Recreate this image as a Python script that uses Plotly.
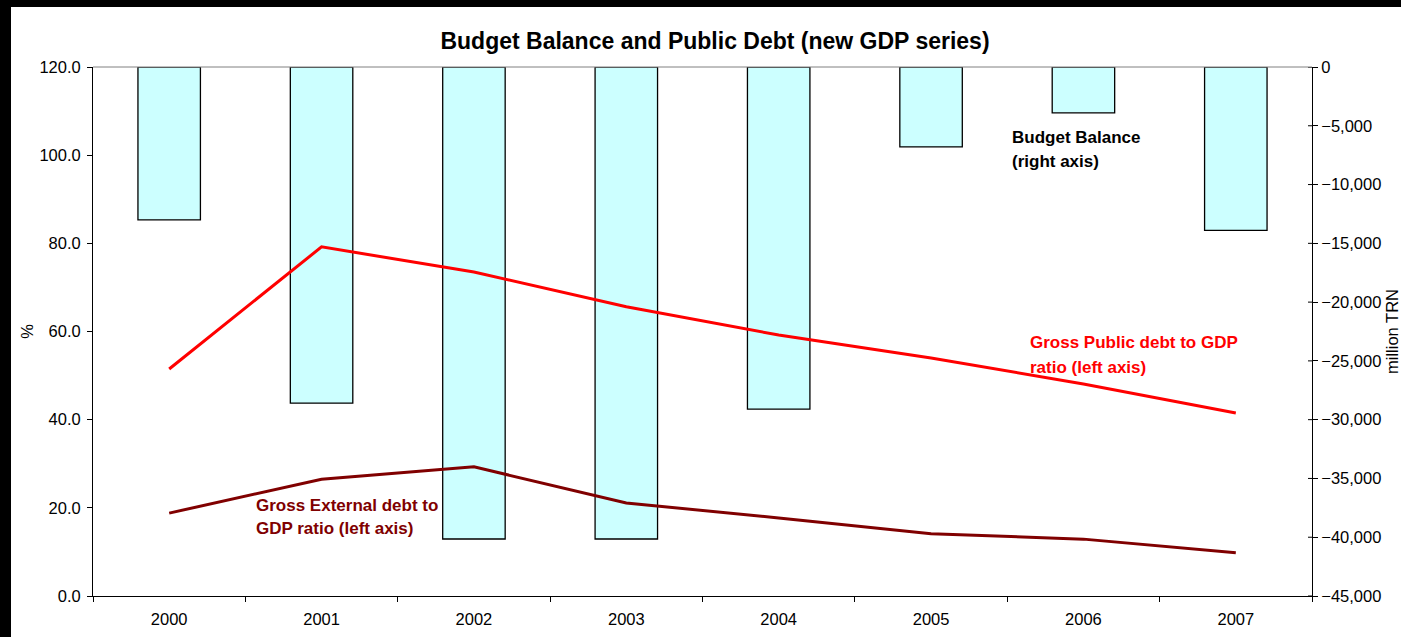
import plotly.graph_objects as go

years = ["2000", "2001", "2002", "2003", "2004", "2005", "2006", "2007"]
budget_balance = [-13000, -28600, -40150, -40150, -29100, -6800, -3900, -13900]
public_debt = [51.5, 79.2, 73.5, 65.6, 59.2, 54.0, 48.1, 41.5]
external_debt = [18.8, 26.5, 29.3, 21.1, 17.7, 14.1, 12.9, 9.8]
right_ticks = list(range(-45000, 1, 5000))

W, H = 1401, 637
L, R, T, B = 93, 89, 67, 41
pw, ph = W - L - R, H - T - B

def px(x):
    return (x - L) / pw

def py(y):
    return (H - B - y) / ph

FONT = "Liberation Sans, Arial, sans-serif"
TICK = 16.5

fig = go.Figure()
fig.add_trace(go.Bar(
    x=years, y=budget_balance, yaxis="y", width=0.41,
    marker=dict(color="#CCFFFF", line=dict(color="black", width=1.3)),
    name="Budget Balance (right axis)", showlegend=False,
))
fig.add_trace(go.Scatter(
    x=years, y=public_debt, mode="lines", yaxis="y2",
    line=dict(color="#FF0000", width=3),
    name="Gross Public debt to GDP ratio (left axis)", showlegend=False,
))
fig.add_trace(go.Scatter(
    x=years, y=external_debt, mode="lines", yaxis="y2",
    line=dict(color="#800000", width=3),
    name="Gross External debt to GDP ratio (left axis)", showlegend=False,
))

annots = [
    ("Budget Balance", 1010, 137, "black"),
    ("(right axis)", 1010, 161, "black"),
    ("Gross Public debt to GDP", 1028, 342, "#FF0000"),
    ("ratio (left axis)", 1028, 367, "#FF0000"),
    ("Gross External debt to", 254, 505, "#800000"),
    ("GDP ratio (left axis)", 254, 528, "#800000"),
]
annotations = []
for text, x, y, c in annots:
    annotations.append(dict(
        text="<b>%s</b>" % text, xref="paper", yref="paper",
        x=px(x), y=py(y), xanchor="left", yanchor="middle",
        showarrow=False, font=dict(family=FONT, size=17, color=c),
    ))

shapes = [
    dict(type="line", xref="paper", yref="paper", x0=0, x1=1, y0=1, y1=1,
         line=dict(color="#808080", width=1)),
    dict(type="rect", xref="paper", yref="paper", x0=px(0), x1=px(W),
         y0=py(7), y1=py(0), fillcolor="black", line=dict(width=0), layer="above"),
    dict(type="rect", xref="paper", yref="paper", x0=px(0), x1=px(11),
         y0=py(H), y1=py(0), fillcolor="black", line=dict(width=0), layer="above"),
]
for v in right_ticks:
    shapes.append(dict(type="line", xref="paper", yref="y", x0=1 - 4 / pw, x1=1,
                       y0=v, y1=v, line=dict(color="black", width=1)))

fig.update_layout(
    width=W, height=H, autosize=False,
    margin=dict(l=L, r=R, t=T, b=B, pad=0, autoexpand=False),
    paper_bgcolor="white", plot_bgcolor="white",
    font=dict(family=FONT, size=TICK, color="black"),
    title=dict(text="<b>Budget Balance and Public Debt (new GDP series)</b>",
               x=px(715), xref="paper", xanchor="center",
               y=1 - 41 / H, yref="container", yanchor="middle",
               font=dict(family=FONT, size=23, color="black"), automargin=False),
    xaxis=dict(type="category", showline=True, linecolor="black", linewidth=1,
               ticks="outside", ticklen=5, tickcolor="black", tickson="boundaries",
               showgrid=False, tickfont=dict(size=TICK), zeroline=False,
               ticklabelstandoff=8, automargin=False),
    yaxis=dict(range=[-45000, 0], tickvals=right_ticks, tickformat=",d",
               side="right", showline=True, linecolor="black", linewidth=1,
               ticks="outside", ticklen=5, tickcolor="black", showgrid=False,
               zeroline=False, tickfont=dict(size=TICK), automargin=False,
               title=dict(text="million TRN", standoff=10, font=dict(size=TICK))),
    yaxis2=dict(range=[0, 120], dtick=20, tickformat=".1f", overlaying="y",
                side="left", showline=True, linecolor="black", linewidth=1,
                ticks="outside", ticklen=5, tickcolor="black", showgrid=False,
                zeroline=False, ticklabelstandoff=3, automargin=False,
                title=dict(text="%", standoff=1, font=dict(size=TICK)),
                tickfont=dict(size=TICK)),
    annotations=annotations,
    shapes=shapes,
)

fig.write_html("out.html", config={"responsive": False})
